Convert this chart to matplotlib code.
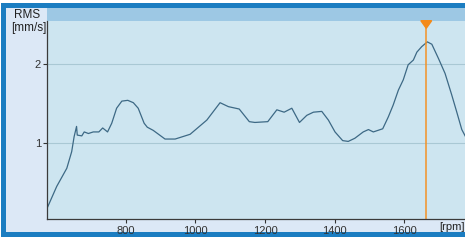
import matplotlib
matplotlib.use("Agg")
import matplotlib.pyplot as plt
from matplotlib.patches import Rectangle, Polygon
from matplotlib.transforms import blended_transform_factory

# speed [rpm] and RMS velocity [mm/s]
rpm = [576, 602, 631, 645, 652, 659, 661, 674, 681, 693, 707, 723, 734, 748,
       760, 774, 789, 806, 822, 836, 853, 862, 879, 913, 942, 985, 1033, 1071,
       1095, 1126, 1155, 1171, 1208, 1234, 1255, 1277, 1299, 1320, 1339, 1363,
       1382, 1401, 1423, 1439, 1458, 1482, 1497, 1511, 1538, 1554, 1568, 1583,
       1597, 1611, 1626, 1636, 1650, 1666, 1679, 1698, 1717, 1736, 1750, 1765,
       1777]
rms = [0.19, 0.45, 0.68, 0.89, 1.08, 1.21, 1.10, 1.09, 1.14, 1.12, 1.14, 1.14,
       1.19, 1.14, 1.25, 1.44, 1.53, 1.54, 1.51, 1.44, 1.25, 1.20, 1.16, 1.05,
       1.05, 1.11, 1.29, 1.51, 1.46, 1.43, 1.27, 1.26, 1.27, 1.42, 1.39, 1.44,
       1.26, 1.35, 1.39, 1.40, 1.29, 1.14, 1.03, 1.02, 1.06, 1.14, 1.17, 1.14,
       1.18, 1.33, 1.48, 1.67, 1.80, 1.99, 2.05, 2.15, 2.22, 2.28, 2.25, 2.07,
       1.88, 1.61, 1.40, 1.17, 1.07]
x_ticks = [800, 1000, 1200, 1400, 1600]
y_ticks = [1, 2]
cursor_rpm = 1663

W, H = 465, 240
fig = plt.figure(figsize=(W / 100, H / 100), dpi=100)
plt.rcParams['font.family'] = ['Liberation Sans', 'DejaVu Sans']


def box(x0, y0, x1, y1, color, z=-10):
    # rectangle given in pixel coords, origin top-left
    fig.patches.append(Rectangle((x0 / W, 1 - y1 / H), (x1 - x0) / W, (y1 - y0) / H,
                                 transform=fig.transFigure, color=color, zorder=z, lw=0))


box(1.3, 2.6, 480, 236.8, '#1b7dc1')
box(6.3, 7.6, 480, 232.3, '#dce8f6')
box(46.7, 7.6, 480, 20.7, '#9dc8e4')

ax = fig.add_axes([47.3 / W, 20.7 / H, 423.2 / W, 198.6 / H])
ax.set_facecolor('#cde5f0')
ax.set_xlim(575, 1790)
ax.set_ylim(0.034, 2.548)

ax.plot(rpm, rms, color='#3d6985', lw=0.9)
ax.axvline(cursor_rpm, color='#f39226', lw=1.1)
trans = blended_transform_factory(ax.transData, ax.transAxes)
ax.add_patch(Polygon([(cursor_rpm - 15.5, 1.0), (cursor_rpm + 15.5, 1.0), (cursor_rpm, 0.962)],
                     closed=True, color='#f38a1a', transform=trans, clip_on=False, zorder=5))

ax.set_xticks(x_ticks)
ax.set_yticks(y_ticks)
ax.set_yticklabels([str(v) for v in y_ticks])
ax.grid(axis='y', color='#a9c8d4', lw=0.8)
ax.grid(axis='x', visible=False)
ax.tick_params(labelsize=8, colors='#333333', length=3, width=0.8, pad=1.5)
for s in ['top', 'right']:
    ax.spines[s].set_visible(False)
for s in ['left', 'bottom']:
    ax.spines[s].set_color('#3a3a3a')
    ax.spines[s].set_linewidth(0.9)

fig.text(27.5 / W, 1 - 14.5 / H, 'RMS', fontsize=8.5, ha='center', va='center', color='#222222')
fig.text(28.7 / W, 1 - 27.5 / H, '[mm/s]', fontsize=8.5, ha='center', va='center', color='#222222')
fig.text(439 / W, 1 - 227 / H, '[rpm]', fontsize=8, ha='left', va='center', color='#222222')

fig.savefig('out.png', dpi=100)
